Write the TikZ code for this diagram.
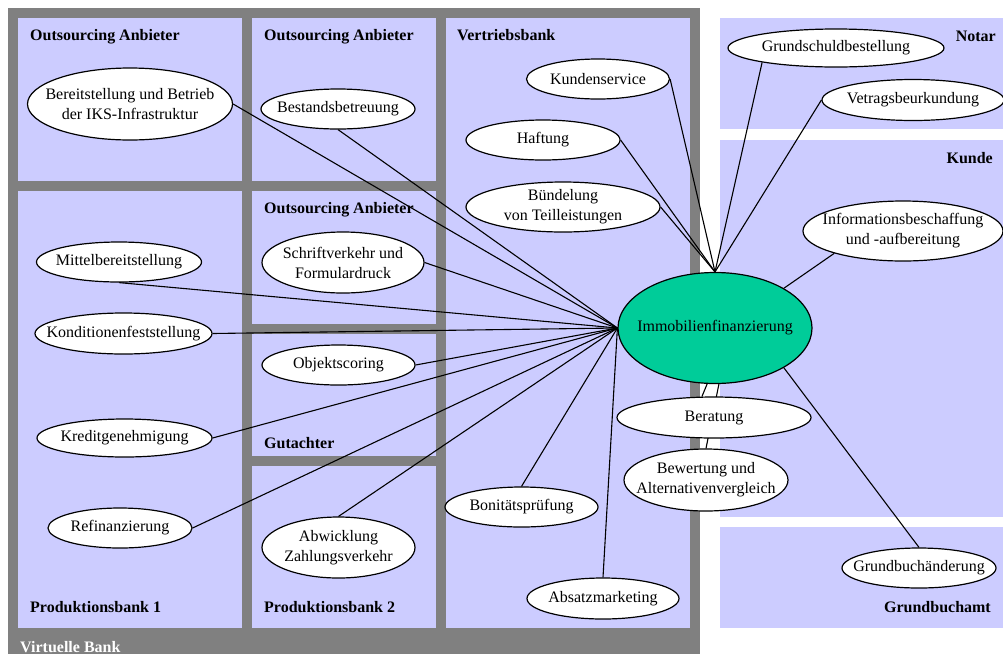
\documentclass[tikz,border=0pt]{standalone}
\usepackage{fontspec}
\setmainfont{Liberation Serif}
\usetikzlibrary{shapes.geometric}
\pgfdeclarelayer{panels}
\pgfdeclarelayer{links}
\pgfsetlayers{panels,links,main}
\definecolor{panelfill}{HTML}{CCCCFF}
\definecolor{framegrey}{HTML}{808080}
\definecolor{coregreen}{HTML}{00CC99}
\newcommand{\tx}[1]{\makebox[0pt]{#1}}
\begin{document}
\begin{tikzpicture}[x=1pt,y=-1pt,
  task/.style={ellipse, draw=black, line width=1.2pt, fill=white, inner sep=0pt,
    font=\fontsize{16}{20}\selectfont, align=center},
  lbl/.style={font=\fontsize{16}{20}\selectfont\bfseries, inner sep=0pt},
  link/.style={line width=1.1pt, draw=black},
  pnl/.style={fill=panelfill}]
\useasboundingbox (0,0) rectangle (1003,654);

% ---- nodes ----
\node[task, minimum width=205pt, minimum height=72pt] (bereit) at (130,104)
  {\tx{Bereitstellung und Betrieb}\\\tx{der IKS-Infrastruktur}};
\node[task, minimum width=154pt, minimum height=40pt] (bestand) at (338,109) {\tx{Bestandsbetreuung}};
\node[task, minimum width=143pt, minimum height=40pt] (kunden) at (598,79) {\tx{Kundenservice}};
\node[task, minimum width=154pt, minimum height=40pt] (haftung) at (543,140) {\tx{Haftung}};
\node[task, minimum width=194pt, minimum height=50pt] (buendel) at (563,207)
  {\tx{Bündelung}\\\tx{von Teilleistungen}};
\node[task, minimum width=216pt, minimum height=38pt] (gs) at (836,48) {\tx{Grundschuldbestellung}};
\node[task, minimum width=182pt, minimum height=41pt] (vetrag) at (913,100) {\tx{Vetragsbeurkundung}};
\node[task, minimum width=200pt, minimum height=60pt] (info) at (903,231)
  {\tx{Informationsbeschaffung}\\\tx{und -aufbereitung}};
\node[task, fill=coregreen, minimum width=194pt, minimum height=111pt] (c) at (715,328)
  {\tx{Immobilienfinanzierung}};
\node[task, minimum width=165pt, minimum height=40pt] (mittel) at (119,262) {\tx{Mittelbereitstellung}};
\node[task, minimum width=177pt, minimum height=41pt] (kondit) at (123.5,333.5) {\tx{Konditionenfeststellung}};
\node[task, minimum width=162pt, minimum height=61pt] (schrift) at (343,262.5)
  {\tx{Schriftverkehr und}\\\tx{Formulardruck}};
\node[task, minimum width=153pt, minimum height=40pt] (objekt) at (338.5,365) {\tx{Objektscoring}};
\node[task, minimum width=175pt, minimum height=38pt] (kredit) at (124.5,438) {\tx{Kreditgenehmigung}};
\node[task, minimum width=144pt, minimum height=40pt] (refin) at (120,528) {\tx{Refinanzierung}};
\node[task, minimum width=153pt, minimum height=61pt] (abwick) at (338.5,547.5)
  {\tx{Abwicklung}\\\tx{Zahlungsverkehr}};
\node[task, minimum width=153pt, minimum height=40pt] (bonit) at (521.5,507) {\tx{Bonitätsprüfung}};
\node[task, minimum width=152pt, minimum height=41pt] (absatz) at (603,598.5) {\tx{Absatzmarketing}};
\node[task, minimum width=164pt, minimum height=62pt] (bewert) at (706,480)
  {\tx{Bewertung und}\\\tx{Alternativenvergleich}};
\node[task, minimum width=194pt, minimum height=41pt] (berat) at (714,417.5) {\tx{Beratung}};
\node[task, minimum width=154pt, minimum height=40pt] (gb) at (919,568) {\tx{Grundbuchänderung}};

% ---- panel labels ----
\node[lbl, anchor=base west] (l1) at (30,40) {Outsourcing Anbieter};
\node[lbl, anchor=base west] (l2) at (264,40) {Outsourcing Anbieter};
\node[lbl, anchor=base west] (l3) at (264,213) {Outsourcing Anbieter};
\node[lbl, anchor=base west] (l4) at (457,40) {Vertriebsbank};
\node[lbl, anchor=base east] (l5) at (996,41) {Notar};
\node[lbl, anchor=base east] (l6) at (993,163) {Kunde};
\node[lbl, anchor=base west] (l7) at (264,448) {Gutachter};
\node[lbl, anchor=base west] (l8) at (30,612) {Produktionsbank 1};
\node[lbl, anchor=base west] (l9) at (264,612) {Produktionsbank 2};
\node[lbl, anchor=base east] (l10) at (991,612) {Grundbuchamt};
\node[lbl, anchor=base west, text=white] (l11) at (20,652) {Virtuelle Bank};

% ---- panels ----
\begin{pgfonlayer}{panels}
\fill[white] (0,0) rectangle (1003,654);
\fill[framegrey] (8,8) rectangle (700,654);
\fill[pnl] (18,18) rectangle (242,181);
\fill[pnl] (252,18) rectangle (436,181);
\fill[pnl] (446,18) rectangle (690,628);
\fill[pnl] (18,191) rectangle (242,628);
\fill[pnl] (252,191) rectangle (436,324);
\fill[pnl] (252,334) rectangle (436,456);
\fill[pnl] (252,466) rectangle (436,628);
\fill[pnl] (720,18) rectangle (1003,129);
\fill[pnl] (720,140) rectangle (1003,517);
\fill[pnl] (720,527) rectangle (1003,628);
\end{pgfonlayer}

% ---- connectors ----
\begin{pgfonlayer}{links}
\draw[link] (bereit.east) -- (c.west);
\draw[link] (bestand.south) -- (c.west);
\draw[link] (schrift.east) -- (c.west);
\draw[link] (mittel.south) -- (c.west);
\draw[link] (kondit.east) -- (c.west);
\draw[link] (objekt.east) -- (c.west);
\draw[link] (kredit.east) -- (c.west);
\draw[link] (refin.east) -- (c.west);
\draw[link] (abwick.north) -- (c.west);
\draw[link] (bonit.north) -- (c.west);
\draw[link] (absatz.north) -- (c.west);
\draw[link] (kunden.east) -- (c.north);
\draw[link] (haftung.east) -- (c.north);
\draw[link] (buendel.east) -- (c.north);
\draw[link] (gs.191) -- (c.north);
\draw[link] (vetrag.west) -- (c.north);
\draw[link] (info.198) -- (c.30);
\draw[link] (gb.north) -- (c.-30);
\draw[link] (c.-98) -- (berat.120);
\draw[link] (c.-86) -- (bewert.north);
\end{pgfonlayer}
\end{tikzpicture}
\end{document}
